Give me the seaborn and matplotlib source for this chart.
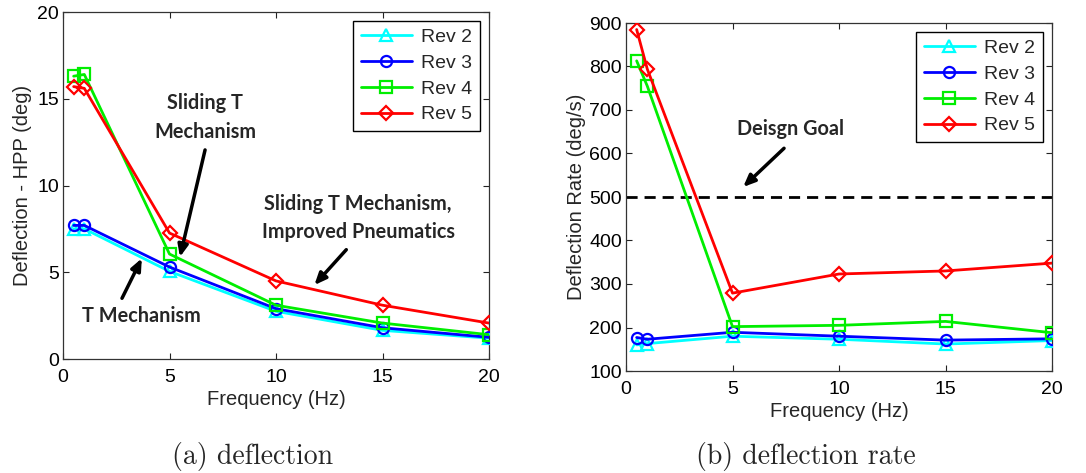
import matplotlib
matplotlib.use("Agg")
import matplotlib.pyplot as plt
import seaborn as sns
import pandas as pd

freq = [0.5, 1, 5, 10, 15, 20]
series_names = ["Rev 2", "Rev 3", "Rev 4", "Rev 5"]

defl_rev2 = [7.5, 7.5, 5.05, 2.75, 1.65, 1.2]
defl_rev3 = [7.7, 7.7, 5.3, 2.9, 1.8, 1.25]
defl_rev4 = [16.3, 16.4, 6.05, 3.1, 2.07, 1.4]
defl_rev5 = [15.7, 15.6, 7.26, 4.5, 3.1, 2.07]

rate_rev2 = [160, 163, 180, 173, 162, 170]
rate_rev3 = [177, 173, 189, 180, 171, 174]
rate_rev4 = [813, 755, 202, 205, 214, 188]
rate_rev5 = [885, 794, 279, 323, 330, 348]

design_goal = 500

colors = ["#00ffff", "#0000ff", "#00ee00", "#ff0000"]
markers = ["^", "o", "s", "D"]
msizes = [9, 8, 8, 7]

sns.set_style("ticks")
plt.rcParams["font.family"] = ["Liberation Sans", "DejaVu Sans"]
plt.rcParams["xtick.direction"] = "in"
plt.rcParams["ytick.direction"] = "in"
plt.rcParams["xtick.top"] = True
plt.rcParams["ytick.right"] = True

fig = plt.figure(figsize=(10.86, 4.73), dpi=100)
W, H = 1086, 473
axL = fig.add_axes([63 / W, (H - 359) / H, 426 / W, 347 / H])
axR = fig.add_axes([626 / W, (H - 371) / H, 426 / W, 348 / H])

defl = [defl_rev2, defl_rev3, defl_rev4, defl_rev5]
rate = [rate_rev2, rate_rev3, rate_rev4, rate_rev5]

for ax, data in [(axL, defl), (axR, rate)]:
    for name, vals, c, m, ms in zip(series_names, data, colors, markers, msizes):
        df = pd.DataFrame({"Frequency": freq, "value": vals})
        sns.lineplot(data=df, x="Frequency", y="value", ax=ax, color=c,
                     marker=m, markersize=ms, markerfacecolor="none",
                     markeredgecolor=c, markeredgewidth=1.6, linewidth=2,
                     label=name, zorder=3)

axR.axhline(design_goal, color="black", ls="--", lw=2, dashes=(4, 2.5), zorder=2)

for ax in (axL, axR):
    ax.set_xlim(0, 20)
    ax.set_xticks([0, 5, 10, 15, 20])
    ax.set_xlabel("Frequency (Hz)", fontsize=14.5, labelpad=3)
    ax.tick_params(labelsize=14, length=4, width=0.8, colors="#222222", labelcolor="black")
    ax.tick_params(axis="x", pad=7)
    ax.tick_params(axis="y", pad=3)
    for sp in ax.spines.values():
        sp.set_color("#333333")
        sp.set_linewidth(0.9)
    leg = ax.legend(loc="upper right", fontsize=14, frameon=True, fancybox=False,
                    edgecolor="black", framealpha=1, handlelength=2.6,
                    borderpad=0.4, labelspacing=0.42, handletextpad=0.5,
                    borderaxespad=0.45)
    leg.get_frame().set_linewidth(1.0)

axL.set_ylim(0, 20)
axL.set_yticks([0, 5, 10, 15, 20])
axL.set_ylabel("Deflection - HPP (deg)", fontsize=14.5, labelpad=4)

axR.set_ylim(100, 900)
axR.set_yticks(list(range(100, 901, 100)))
axR.set_ylabel("Deflection Rate (deg/s)", fontsize=14.5, labelpad=2)

afont = dict(family=["Lato", "DejaVu Sans"], fontweight="bold", fontsize=14.3)
aprops = dict(arrowstyle="-|>,head_length=0.7,head_width=0.3", color="black", lw=2.5,
              shrinkA=0, shrinkB=0)

axL.text(6.67, 13.9, "Sliding T\nMechanism", ha="center", va="center",
         linespacing=1.55, **afont)
axL.annotate("", xy=(5.49, 5.88), xytext=(6.67, 12.05), arrowprops=aprops)
axL.text(3.7, 2.5, "T Mechanism", ha="center", va="center", **afont)
axL.annotate("", xy=(3.7, 5.8), xytext=(2.77, 3.5), arrowprops=aprops)
axL.text(13.85, 8.13, "Sliding T Mechanism,\nImproved Pneumatics", ha="center",
         va="center", linespacing=1.55, **afont)
axL.annotate("", xy=(11.8, 4.26), xytext=(13.3, 6.3), arrowprops=aprops)

axR.text(7.7, 656, "Deisgn Goal", ha="center", va="center", **afont)
axR.annotate("", xy=(5.5, 523), xytext=(7.42, 612), arrowprops=aprops)

cap = dict(family=["cmr10", "DejaVu Serif"], fontsize=20, ha="center", va="center")
fig.text(253 / W, 1 - 456 / H, "(a) deflection", **cap)
fig.text(806 / W, 1 - 456 / H, "(b) deflection rate", **cap)

fig.savefig("out.png", dpi=100)
